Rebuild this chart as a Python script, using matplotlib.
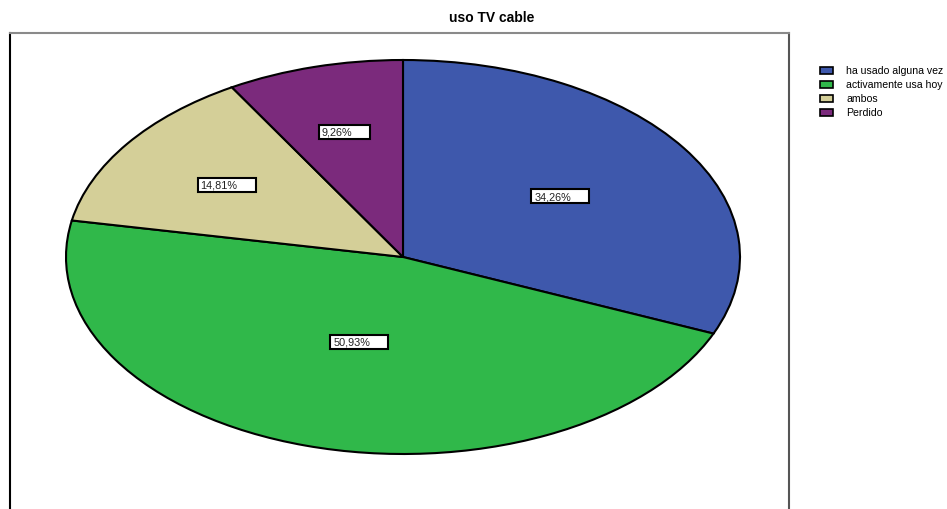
import matplotlib.pyplot as plt
from matplotlib.patches import Rectangle
import numpy as np

plt.rcParams['font.family'] = ['Liberation Sans', 'DejaVu Sans']

categorias = ["ha usado alguna vez", "activamente usa hoy", "ambos", "Perdido"]
porcentajes = [34.26, 50.93, 14.81, 9.26]
etiquetas = ["34,26%", "50,93%", "14,81%", "9,26%"]
colores = ["#3e58ac", "#30b84a", "#d4cf98", "#7b2a7c"]
# distancia radial de cada etiqueta (fraccion del radio)
dist_etiqueta = [0.56, 0.45, 0.64, 0.66]

W, H = 947, 510
fig = plt.figure(figsize=(W / 100, H / 100), dpi=100)

# marco del grafico
marco = fig.add_axes([10 / W, -0.05, 779 / W, 1 - 34 / H + 0.05])
marco.set_xticks([])
marco.set_yticks([])
marco.spines['left'].set_color('black')
marco.spines['top'].set_color('#8a8a8a')
marco.spines['right'].set_color('#555555')
marco.spines['bottom'].set_visible(False)
for s in ['left', 'top', 'right']:
    marco.spines[s].set_linewidth(1.5)

fig.text(492 / W, 1 - 18 / H, "uso TV cable", ha='center', va='center',
         fontsize=10, fontweight='bold')

# pastel eliptico
ax = fig.add_axes([66 / W, 1 - 455 / H, 674 / W, 394 / H])
wedges, _ = ax.pie(porcentajes, colors=colores, startangle=90, counterclock=False,
                   wedgeprops=dict(edgecolor='black', linewidth=1.5))
ax.set_aspect('auto')
ax.set_xlim(-1, 1)
ax.set_ylim(-1, 1)
ax.axis('off')
for w in wedges:
    w.set_clip_on(False)

fig.canvas.draw()
renderer = fig.canvas.get_renderer()

for w, txt, r in zip(wedges, etiquetas, dist_etiqueta):
    ang = np.deg2rad((w.theta1 + w.theta2) / 2)
    cx, cy = ax.transData.transform((r * np.cos(ang), r * np.sin(ang)))
    t = fig.text(0, 0, txt, fontsize=7.8, ha='left', va='center', color='#222222')
    tw = t.get_window_extent(renderer).width
    bw, bh = tw + 21, 14
    x0 = cx - bw / 2
    fig.patches.append(Rectangle((x0 / W, (cy - bh / 2) / H), bw / W, bh / H,
                                 transform=fig.transFigure, facecolor='white',
                                 edgecolor='black', linewidth=1.5, zorder=5))
    t.set_position(((x0 + 3) / W, cy / H))
    t.set_zorder(6)

# leyenda
for i, (cat, col) in enumerate(zip(categorias, colores)):
    y = 71 + 14 * i
    fig.patches.append(Rectangle((820 / W, 1 - (y + 3.5) / H), 13 / W, 7 / H,
                                 transform=fig.transFigure, facecolor=col,
                                 edgecolor='black', linewidth=1.2))
    fig.text(846 / W, 1 - y / H, cat, fontsize=7.6, ha='left', va='center')

fig.savefig("out.png", dpi=100)
